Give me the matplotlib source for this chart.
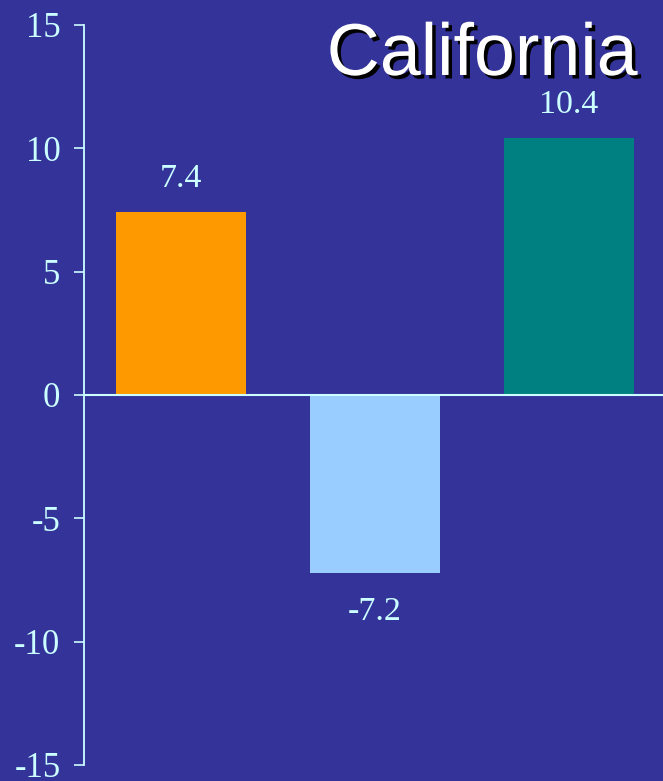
import matplotlib.pyplot as plt
import matplotlib.patheffects as pe
import numpy as np

# data
categories = ["A", "B", "C"]
values = [7.4, -7.2, 10.4]
bar_colors = ["#FF9900", "#99CCFF", "#008080"]
yticks = [-15, -10, -5, 0, 5, 10, 15]

BG = "#333399"
FG = "#CCFFFF"

fig = plt.figure(figsize=(6.63, 7.81), dpi=100, facecolor=BG)
ax = fig.add_axes([0.1267, 0.0205, 0.875, 0.9475])
ax.set_facecolor(BG)

x = np.arange(len(categories))
bars = ax.bar(x, values, width=0.667, color=bar_colors, zorder=2)

ax.axhline(0, color=FG, lw=1.5, zorder=3)

for xi, v in zip(x, values):
    off = 24 if v >= 0 else -28
    ax.annotate(f"{v}", (xi, v), xytext=(0, off), textcoords="offset points",
                ha="center", va="center", fontsize=24.5, color=FG,
                family="Liberation Serif")

ax.set_xlim(-0.5, 2.49)
ax.set_ylim(-15, 15)
ax.set_yticks(yticks)
ax.set_yticklabels([str(t) for t in yticks], family="Liberation Serif", fontsize=25, color=FG)
ax.tick_params(axis="y", colors=FG, length=7, width=1.2, pad=10)
ax.set_xticks([])

for s in ["top", "right", "bottom"]:
    ax.spines[s].set_visible(False)
ax.spines["left"].set_color(FG)
ax.spines["left"].set_linewidth(1.3)

fig.text(0.962, 0.904, "California", ha="right", va="baseline", fontsize=53,
         color="white", family="Liberation Sans",
         path_effects=[pe.withSimplePatchShadow(offset=(2.5, -2.5), shadow_rgbFace="black", alpha=1)])

fig.savefig("out.png", dpi=100, facecolor=BG)
